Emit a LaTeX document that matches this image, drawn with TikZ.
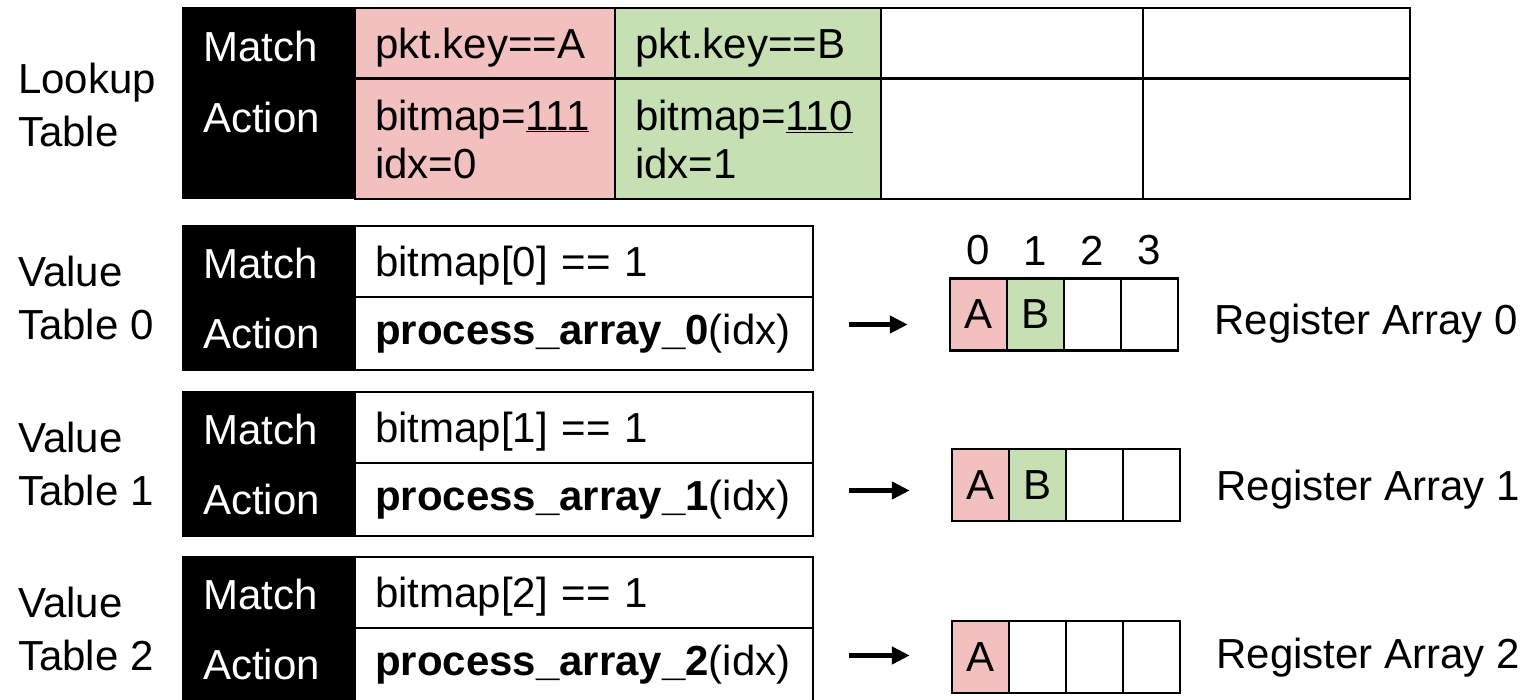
\documentclass[tikz,border=0pt]{standalone}
\usepackage{fontspec}
\setmainfont{Liberation Sans}
\usetikzlibrary{arrows.meta,positioning}
\definecolor{keyA}{HTML}{F1C0BF}
\definecolor{keyB}{HTML}{C6E0B4}
\tikzset{
  hdr/.style={draw, fill=black, line width=2.5pt, minimum width=172pt, inner sep=0pt},
  hdrtext/.style={anchor=west, text=white, inner sep=0pt},
  cell/.style={draw, line width=2.5pt, inner xsep=20pt, inner ysep=0pt, align=left},
  keycell/.style={cell, text depth=0pt},
  slot/.style={draw, line width=2.5pt, minimum width=57pt, minimum height=72pt, inner sep=0pt},
  lbl/.style={anchor=west, align=left, inner sep=0pt, font=\fontsize{42}{53}\selectfont},
  ->/.style={-{Triangle[length=18pt,width=17pt]}, line width=4.5pt}
}

\begin{document}
\begin{tikzpicture}[x=1pt,y=-1pt,font=\fontsize{42}{48}\selectfont]
\useasboundingbox (0,0) rectangle (1521,700);

% Lookup table
\node[lbl] (lookup) at (18,105) {Lookup\\Table};
\node[hdr, minimum height=190pt] (lkhdr) at (269,103) {};
\node[hdrtext] (lkmatch) at (203,46) {Match};
\node[hdrtext] (lkaction) at (203,117) {Action};

\node[keycell, fill=keyA, text width=220pt, minimum height=70pt] (kA) at (485,43) {pkt.key==A};
\node[cell, fill=keyA, text width=220pt, minimum height=120pt] (aA) at (485,139) {bitmap=\underline{111}\\idx=0};
\node[keycell, fill=keyB, text width=226pt, minimum height=70pt] (kB) at (748,43) {pkt.key==B};
\node[cell, fill=keyB, text width=226pt, minimum height=120pt] (aB) at (748,139) {bitmap=\underline{110}\\idx=1};
\node[cell, text width=222pt, minimum height=70pt] (kC) at (1012,43) {};
\node[cell, text width=222pt, minimum height=120pt] (aC) at (1012,139) {};
\node[cell, text width=227pt, minimum height=70pt] (kD) at (1276.5,43) {};
\node[cell, text width=227pt, minimum height=120pt] (aD) at (1276.5,139) {};

% Value tables, one per register array
\foreach \i/\T in {0/226,1/392,2/557} {
  \node[lbl] (value\i) at (18,\T+72) {Value\\Table \i};
  \node[hdr, minimum height=144pt] (vhdr\i) at (269,\T+72) {};
  \node[hdrtext] (vmatch\i) at (203,\T+37) {Match};
  \node[hdrtext] (vaction\i) at (203,\T+107) {Action};
  \node[keycell, text width=418pt, minimum height=71pt] (vm\i) at (584,\T+35.5) {bitmap[\i] == 1};
  \node[cell, text width=418pt, minimum height=73pt] (va\i) at (584,\T+107.5) {\textbf{process\_array\_\i}(idx)};
}

% Register arrays (arrays 0 and 1 hold A and B)
\foreach \i/\x/\y in {0/950/314.5,1/952/485}
  \foreach \j/\c/\t in {0/keyA/A,1/keyB/B,2/white/,3/white/}
    \node[slot, fill=\c] (reg\i-\j) at ({\x+28.5+57*\j},\y) {\t};
% array 2 only holds A
\foreach \j/\c/\t in {0/keyA/A,1/white/,2/white/,3/white/}
  \node[slot, fill=\c] (reg2-\j) at ({952+28.5+57*\j},657) {\t};

% slot indices
\foreach \j in {0,...,3}
  \node[above=12pt of reg0-\j, inner sep=0pt] (slot\j) {\j};

% labels and arrows into the arrays
\foreach \i/\dy in {0/-9,1/-5,2/-1} {
  \node[lbl, right=35pt of reg\i-3, yshift=\dy pt] (regname\i) {Register Array \i};
  \coordinate (tail\i) at ([xshift=35pt,yshift=9pt]va\i.east);
  \draw[->, shorten >=41pt] (tail\i) -- (tail\i -| reg\i-0.west);
}

\end{tikzpicture}
\end{document}
